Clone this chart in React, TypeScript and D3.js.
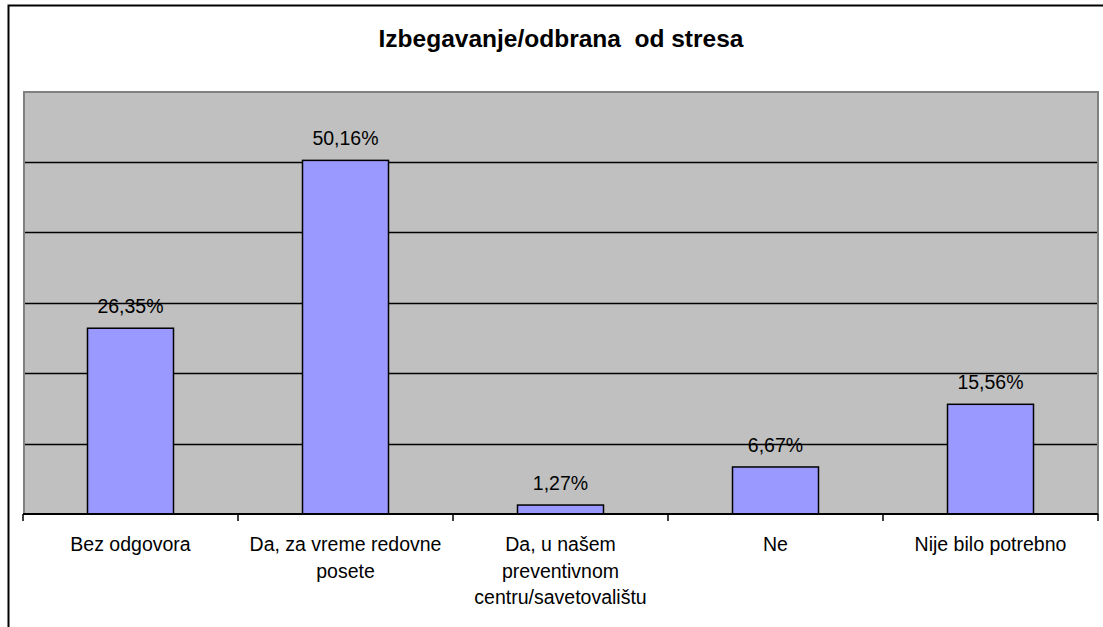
import React from "react";
import * as d3 from "d3";

const title = "Izbegavanje/odbrana\u00a0 od stresa";
const categories = [
  "Bez odgovora",
  "Da, za vreme redovne posete",
  "Da, u našem preventivnom centru/savetovalištu",
  "Ne",
  "Nije bilo potrebno",
];
const values = [26.35, 50.16, 1.27, 6.67, 15.56];
const valueLabels = ["26,35%", "50,16%", "1,27%", "6,67%", "15,56%"];
const yTicks = [0, 10, 20, 30, 40, 50, 60];

const W = 1103;
const H = 627;
const plot = { left: 23, right: 1098, top: 91, bottom: 514 };
const FONT = "Arial, 'Liberation Sans', Helvetica, sans-serif";
const LABEL_SIZE = 19.5;

function wrap(text: string, maxW: number, size: number): string[] {
  const canvas = document.createElement("canvas");
  const ctx = canvas.getContext("2d")!;
  ctx.font = `${size}px ${FONT}`;
  const words = text.split(" ");
  const lines: string[] = [];
  let cur = "";
  for (const w of words) {
    const t = cur ? cur + " " + w : w;
    if (ctx.measureText(t).width > maxW && cur) {
      lines.push(cur);
      cur = w;
    } else cur = t;
  }
  if (cur) lines.push(cur);
  return lines;
}

export default function App() {
  const x = d3
    .scaleBand<string>()
    .domain(categories)
    .range([plot.left, plot.right])
    .padding(0);
  const y = d3.scaleLinear().domain([0, 60]).range([plot.bottom, plot.top]);
  const bw = x.bandwidth();
  const barW = bw * 0.4;

  return (
    <svg
      width={W}
      height={H}
      style={{ position: "fixed", left: 0, top: 0, display: "block", background: "#fff" }}
    >
      <rect x={8.5} y={5.5} width={W + 20} height={H + 20} fill="#fff" stroke="#000" strokeWidth={2} />
      <text
        x={561}
        y={47}
        textAnchor="middle"
        fontFamily={FONT}
        fontWeight="bold"
        fontSize={24.5}
        fill="#000"
      >
        {title}
      </text>
      <rect
        x={plot.left + 1}
        y={plot.top + 1}
        width={plot.right - plot.left - 1}
        height={plot.bottom - plot.top - 1}
        fill="#C0C0C0"
        stroke="#808080"
        strokeWidth={2}
      />
      {yTicks
        .filter((t) => t > 0 && t < 60)
        .map((t) => (
          <line
            key={t}
            x1={plot.left + 2}
            x2={plot.right - 1}
            y1={Math.round(y(t)) + 0.5}
            y2={Math.round(y(t)) + 0.5}
            stroke="#000"
            strokeWidth={1.5}
          />
        ))}
      {categories.map((c, i) => {
        const cx = x(c)! + bw / 2;
        return (
          <g key={c}>
            <rect
              x={cx - barW / 2}
              y={y(values[i])}
              width={barW}
              height={plot.bottom - y(values[i])}
              fill="#9999FF"
              stroke="#000"
              strokeWidth={1.5}
            />
            <text
              x={cx}
              y={y(values[i]) - 15}
              textAnchor="middle"
              fontFamily={FONT}
              fontSize={LABEL_SIZE}
              fill="#000"
            >
              {valueLabels[i]}
            </text>
          </g>
        );
      })}
      <line x1={plot.left} x2={plot.right} y1={plot.bottom} y2={plot.bottom} stroke="#000" strokeWidth={2} />
      {[...categories.map((c) => x(c)!), plot.right].map((tx, i) => (
        <line key={i} x1={tx} x2={tx} y1={plot.bottom} y2={plot.bottom + 7} stroke="#000" strokeWidth={1.5} />
      ))}
      {categories.map((c) => {
        const cx = x(c)! + bw / 2;
        const lines = wrap(c, bw - 8, LABEL_SIZE);
        return (
          <text key={c} textAnchor="middle" fontFamily={FONT} fontSize={LABEL_SIZE} fill="#000">
            {lines.map((l, j) => (
              <tspan key={j} x={cx} y={551 + j * 26.5}>
                {l}
              </tspan>
            ))}
          </text>
        );
      })}
    </svg>
  );
}
